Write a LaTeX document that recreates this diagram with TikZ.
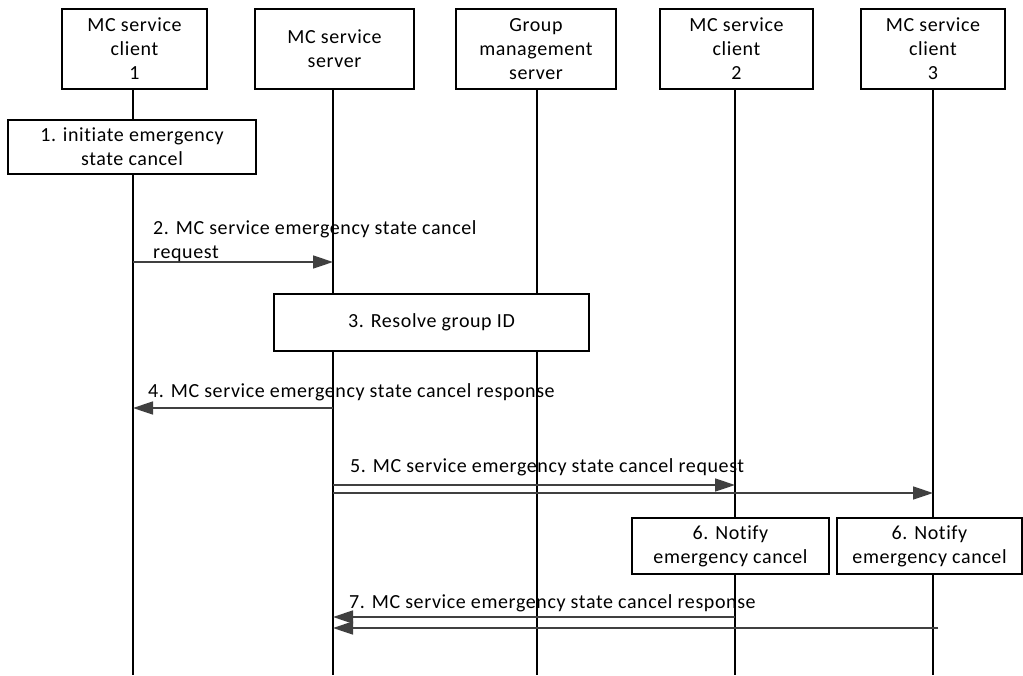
\documentclass[tikz,border=0pt]{standalone}
\usepackage{fontspec}
\setmainfont{Carlito}[LetterSpace=3,Ligatures=NoCommon]
\usetikzlibrary{arrows.meta}
\definecolor{arrowgray}{HTML}{404040}
\begin{document}
\begin{tikzpicture}[x=1pt,y=-1pt,
  txt/.style={font=\fontsize{20}{24}\selectfont},
  head/.style={txt, draw=black, line width=1.2pt, fill=white, minimum height=80pt, align=center, inner sep=0pt},
  stepbox/.style={txt, draw=black, line width=1.2pt, fill=white, align=center, inner sep=0pt},
  life/.style={draw=black, line width=1.2pt},
  msg/.style={draw=arrowgray, line width=1.5pt, -{Triangle[length=20pt,width=13pt]}},
  lbl/.style={txt, anchor=west, align=left, inner sep=0pt}
]
\useasboundingbox (0,0) rectangle (1023,675);
% header boxes
\node[head, minimum width=145pt] (c1) at (134.5,49) {MC service\\client\\1};
\node[head, minimum width=159pt] (srv) at (334.5,49) {MC service\\server};
\node[head, minimum width=160pt] (gms) at (536,49) {Group\\management\\server};
\node[head, minimum width=153pt] (c2) at (736.5,49) {MC service\\client\\2};
\node[head, minimum width=144pt] (c3) at (933,49) {MC service\\client\\3};
% lifeline ends
\coordinate (e1) at (133,675);
\coordinate (e2) at (333,675);
\coordinate (e3) at (537,675);
\coordinate (e4) at (735,675);
\coordinate (e5) at (933,675);
\draw[life] (c1.south -| e1) -- (e1);
\draw[life] (srv.south -| e2) -- (e2);
\draw[life] (gms.south -| e3) -- (e3);
\draw[life] (c2.south -| e4) -- (e4);
\draw[life] (c3.south -| e5) -- (e5);
% step boxes
\node[stepbox, minimum width=248pt, minimum height=54pt] (s1) at (132,147) {1. initiate emergency\\state cancel};
\node[stepbox, minimum width=315pt, minimum height=57pt] (s3) at (431.5,322.5) {3. Resolve group ID};
\node[stepbox, minimum width=197pt, minimum height=56pt] (s6a) at (730.5,546) {6. Notify\\emergency cancel};
\node[stepbox, minimum width=185pt, minimum height=56pt] (s6b) at (929.5,546) {6. Notify\\emergency cancel};
% message coordinates
\coordinate (m2a) at (133,262); \coordinate (m2b) at (333,262);
\coordinate (m4a) at (333,408); \coordinate (m4b) at (133,408);
\coordinate (m5a) at (333,485); \coordinate (m5b) at (735,485);
\coordinate (m5c) at (333,493); \coordinate (m5d) at (933,493);
\coordinate (m7a) at (735,617); \coordinate (m7b) at (333,617);
\coordinate (m7c) at (938,628); \coordinate (m7d) at (333,628);
% messages
\draw[msg] (m2a) -- (m2b);
\draw[msg] (m4a) -- (m4b);
\draw[msg] (m5a) -- (m5b);
\draw[msg] (m5c) -- (m5d);
\draw[msg] (m7a) -- (m7b);
\draw[msg] (m7c) -- (m7d);
% labels
\node[lbl] (l2) at (153,241) {2. MC service emergency state cancel\\request};
\node[lbl] (l4) at (148,392) {4. MC service emergency state cancel response};
\node[lbl] (l5) at (350,467) {5. MC service emergency state cancel request};
\node[lbl] (l7) at (349,603) {7. MC service emergency state cancel response};
\end{tikzpicture}
\end{document}
